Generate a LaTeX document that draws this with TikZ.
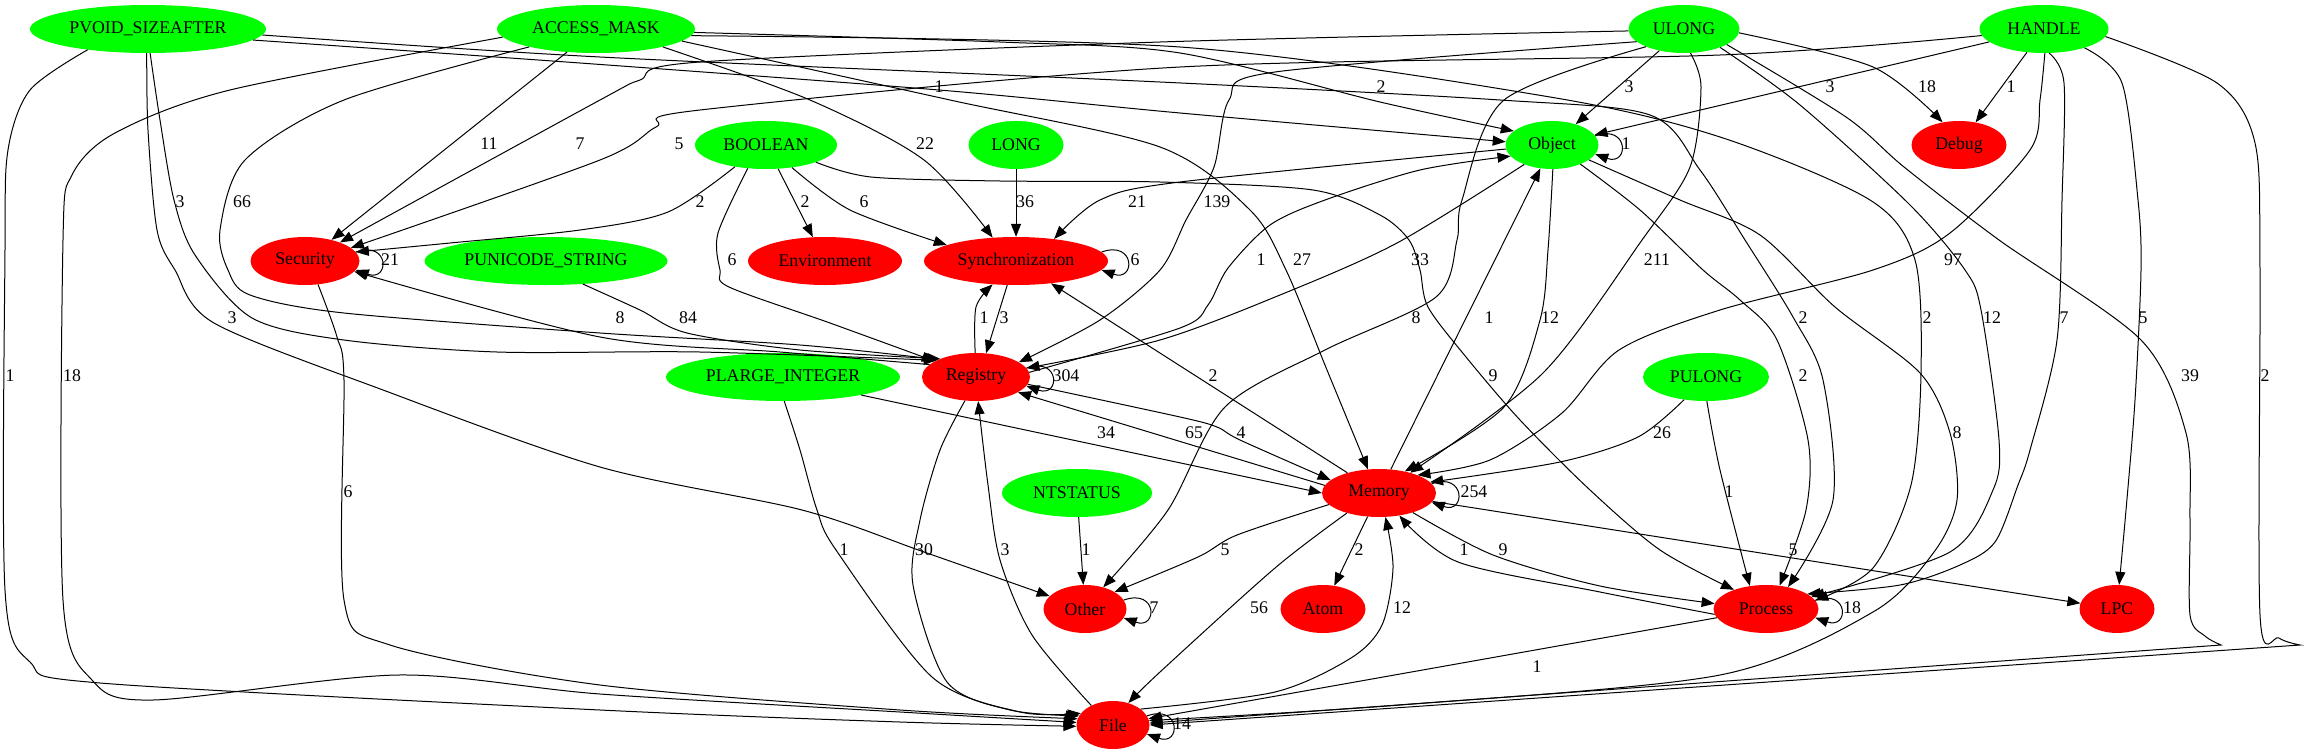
\documentclass[tikz,border=0pt]{standalone}
\usepackage{fontspec}
\setmainfont{Liberation Serif}
\usetikzlibrary{shapes,arrows.meta}
\tikzset{
  every node/.style={font=\fontsize{17.8pt}{20pt}\selectfont},
  rel/.style={line width=1pt, -{Triangle[length=13pt,width=10pt]}},
  cnt/.style={inner sep=0pt},
}
\begin{document}
\begin{tikzpicture}[x=1pt,y=-1pt]
    \tikzstyle{typenode}=[ellipse, fill=green, inner sep=0pt, minimum height=48pt]
    \tikzstyle{catnode}=[ellipse, fill=red, inner sep=0pt, minimum height=48pt]
    \useasboundingbox (0,0) rectangle (2305,755);

    % argument types
    \node (PvoidSizeAfter) [typenode, minimum width=236pt] at (148,29) {PVOID\_SIZEAFTER};
    \node (AccessMask) [typenode, minimum width=198pt] at (596,29) {ACCESS\_MASK};
    \node (Ulong) [typenode, minimum width=111pt] at (1684,29) {ULONG};
    \node (Handle) [typenode, minimum width=129pt] at (2044,29) {HANDLE};
    \node (Boolean) [typenode, minimum width=142pt] at (766,145) {BOOLEAN};
    \node (Long) [typenode, minimum width=95pt] at (1016,145) {LONG};
    \node (Object) [typenode, minimum width=93pt] at (1552,145) {Object};
    \node (PunicodeString) [typenode, minimum width=243pt] at (546,261) {PUNICODE\_STRING};
    \node (PlargeInteger) [typenode, minimum width=234pt] at (783,377) {PLARGE\_INTEGER};
    \node (Pulong) [typenode, minimum width=126pt] at (1706,377) {PULONG};
    \node (Ntstatus) [typenode, minimum width=150pt] at (1077,493) {NTSTATUS};

    % categories
    \node (Debug) [catnode, minimum width=95pt] at (1959,145) {Debug};
    \node (Security) [catnode, minimum width=109pt] at (305,261) {Security};
    \node (Environment) [catnode, minimum width=154pt] at (825,261) {Environment};
    \node (Synchronization) [catnode, minimum width=184pt] at (1016,261) {Synchronization};
    \node (Registry) [catnode, minimum width=108pt] at (976,377) {Registry};
    \node (Memory) [catnode, minimum width=114pt] at (1379,493) {Memory};
    \node (Other) [catnode, minimum width=83pt] at (1085,609) {Other};
    \node (Atom) [catnode, minimum width=85pt] at (1323,609) {Atom};
    \node (Process) [catnode, minimum width=105pt] at (1766,609) {Process};
    \node (Lpc) [catnode, minimum width=75pt] at (2117,609) {LPC};
    \node (File) [catnode, minimum width=73pt] at (1113,725) {File};

    % into Security
    \draw[rel] (AccessMask) -- (Security) node[cnt] (lAmSe) at (489,144) {11};
    \draw[rel] plot[smooth] coordinates {(Ulong.182) (1160,42) (700,62) (640,80) (600,100) (Security.28)}
        node[cnt] (lUlSe) at (580,144) {7};
    \draw[rel] plot[smooth] coordinates {(Handle.186) (1720,55) (1180,67) (700,110) (656,127) (600,160) (Security.16)}
        node[cnt] (lHaSe) at (679,144) {5};
    \draw[rel] plot[smooth] coordinates {(Boolean.215) (668,212) (580,230) (450,243) (Security.10)}
        node[cnt] (lBoSe) at (700,202) {2};
    \draw[rel] plot[smooth] coordinates {(Registry.165) (780,352) (600,337) (Security.-12)}
        node[cnt] (lRgSe) at (620,318) {8};
    \draw[rel] (Security.10) .. controls +(34,-12) and +(34,12) .. (Security.-10)
        node[cnt] (lSeSelf) at (390,260) {21};

    % into Registry
    \draw[rel] plot[smooth] coordinates {(PvoidSizeAfter.-85) (160,120) (174,200) (195,255) (252,318) (344,340) (497,352) (700,352) (Registry.157)}
        node[cnt] (lPvRg) at (180,202) {3};
    \draw[rel] plot[smooth] coordinates {(AccessMask.195) (344,100) (245,160) (220,230) (228,270) (250,295) (344,313) (600,333) (800,345) (Registry.155)}
        node[cnt] (lAmRg) at (242,202) {66};
    \draw[rel] plot[smooth] coordinates {(PunicodeString.-32) (640,310) (687,333) (800,350) (Registry.153)}
        node[cnt] (lPsRg) at (688,318) {84};
    \draw[rel] plot[smooth] coordinates {(Boolean.232) (718,233) (720,270) (729,287) (830,323) (Registry.159)}
        node[cnt] (lBoRg) at (732,260) {6};
    \draw[rel] plot[smooth] coordinates {(Ulong.195) (1275,72) (1229,100) (1214,167) (1186,220) (1160,270) (1100,320) (Registry.19)}
        node[cnt] (lUlRg) at (1217,202) {139};
    \draw[rel] plot[smooth] coordinates {(Object.215) (1397,243) (1280,295) (1160,340) (Registry.10)}
        node[cnt] (lObRg) at (1420,260) {33};
    \draw[rel] (Registry.10) .. controls +(34,-12) and +(34,12) .. (Registry.-10)
        node[cnt] (lRgSelf) at (1066,376) {304};

    % into Synchronization and Environment
    \draw[rel] plot[smooth] coordinates {(AccessMask.-15) (810,100) (924,160) (Synchronization.135)}
        node[cnt] (lAmSy) at (925,144) {22};
    \draw[rel] (Boolean) -- (Environment) node[cnt] (lBoEn) at (805,202) {2};
    \draw[rel] plot[smooth] coordinates {(Boolean.-41) (850,210) (Synchronization.167)}
        node[cnt] (lBoSy) at (864,202) {6};
    \draw[rel] (Long) -- (Synchronization) node[cnt] (lLoSy) at (1025,202) {36};
    \draw[rel] plot[smooth] coordinates {(Object.185) (1180,182) (1100,200) (Synchronization.30)}
        node[cnt] (lObSy) at (1137,202) {21};
    \draw[rel] plot[smooth] coordinates {(Registry.92) (976,307) (Synchronization.-135)}
        node[cnt] (lRgSy) at (984,318) {1};
    \draw[rel] (Synchronization.-110) -- (Registry.67) node[cnt] (lSyRg) at (1004,318) {3};
    \draw[rel] (Memory) -- (Synchronization) node[cnt] (lMeSy) at (1213,376) {2};
    \draw[rel] (Synchronization.6) .. controls +(34,-12) and +(34,12) .. (Synchronization.-6)
        node[cnt] (lSySelf) at (1135,260) {6};

    % into Object and Debug
    \draw[rel] plot[smooth] coordinates {(AccessMask.-2) (1000,42) (1180,53) (1380,102) (Object.160)}
        node[cnt] (lAmOb) at (1381,87) {2};
    \draw[rel] plot[smooth] coordinates {(PvoidSizeAfter.-6) (580,63) (939,90) (1180,113) (Object.176)}
        node[cnt] (lPvOb) at (939,87) {1};
    \draw[rel] (Ulong) -- (Object) node[cnt] (lUlOb) at (1629,87) {3};
    \draw[rel] (Handle) -- (Object) node[cnt] (lHaOb) at (1830,87) {3};
    \draw[rel] plot[smooth] coordinates {(Registry.5) (1180,328) (1208,305) (1228,268) (1270,225) (1325,200) (1420,170) (Object.195)}
        node[cnt] (lRgOb) at (1261,260) {1};
    \draw[rel] (Memory) -- (Object) node[cnt] (lMeOb) at (1489,318) {1};
    \draw[rel] (Object.12) .. controls +(34,-12) and +(34,12) .. (Object.-12)
        node[cnt] (lObSelf) at (1626,144) {1};
    \draw[rel] plot[smooth] coordinates {(Ulong.-4) (1873,67) (Debug.126)}
        node[cnt] (lUlDe) at (1927,87) {18};
    \draw[rel] (Handle) -- (Debug) node[cnt] (lHaDe) at (2011,87) {1};

    % into Memory
    \draw[rel] plot[smooth] coordinates {(AccessMask.-8) (950,100) (1160,147) (1250,210) (1286,270) (1327,370) (Memory.115)}
        node[cnt] (lAmMe) at (1302,260) {27};
    \draw[rel] plot[smooth] coordinates {(Ulong.-75) (1701,87) (1690,167) (1642,240) (1543,373) (Memory.33)}
        node[cnt] (lUlMe) at (1657,260) {211};
    \draw[rel] plot[smooth] coordinates {(Object.-88) (1548,250) (1540,320) (1504,407) (Memory.40)}
        node[cnt] (lObMe) at (1550,318) {12};
    \draw[rel] plot[smooth] coordinates {(Handle.-88) (2040,100) (2030,150) (1950,233) (1873,270) (1720,310) (1619,350) (1562,413) (1490,460) (Memory.25)}
        node[cnt] (lHaMe) at (1953,260) {97};
    \draw[rel] plot[smooth] coordinates {(Pulong.226) (1638,437) (1560,462) (Memory.12)}
        node[cnt] (lPuMe) at (1662,433) {26};
    \draw[rel] plot[smooth] coordinates {(Registry.-8) (1180,417) (1217,427) (1240,440) (Memory.165)}
        node[cnt] (lRgMe) at (1241,433) {4};
    \draw[rel] (Memory.172) -- (Registry.-20) node[cnt] (lMeRg) at (1194,433) {65};
    \draw[rel] (PlargeInteger.-13) -- (Memory.180) node[cnt] (lPlMe) at (1106,433) {34};
    \draw[rel] (Memory.10) .. controls +(34,-12) and +(34,12) .. (Memory.-10)
        node[cnt] (lMeSelf) at (1474,492) {254};

    % into Process and LPC
    \draw[rel] plot[smooth] coordinates {(PvoidSizeAfter.-3) (600,57) (1160,82) (1500,100) (1650,115) (1700,170) (1745,240) (1793,317) (1823,380) (1833,500) (Process.45)}
        node[cnt] (lPvPr) at (1803,318) {2};
    \draw[rel] plot[smooth] coordinates {(AccessMask.-4) (1180,47) (1550,97) (1720,137) (1870,200) (1915,260) (1921,373) (1911,485) (1873,568) (Process.10)}
        node[cnt] (lAmPr) at (1927,318) {2};
    \draw[rel] plot[smooth] coordinates {(Ulong.-27) (1800,105) (1910,205) (1965,270) (1981,310) (1999,440) (1993,490) (1950,552) (Process.15)}
        node[cnt] (lUlPr) at (1992,318) {12};
    \draw[rel] plot[smooth] coordinates {(Handle.-78) (2064,83) (2062,200) (2057,340) (2030,450) (2018,485) (1995,542) (1960,565) (1900,585) (Process.20)}
        node[cnt] (lHaPr) at (2064,318) {7};
    \draw[rel] plot[smooth] coordinates {(Pulong.-88) (1720,470) (Process.125)}
        node[cnt] (lPuPr) at (1729,492) {1};
    \draw[rel] plot[smooth] coordinates {(Object.-34) (1640,210) (1703,270) (1740,300) (1777,340) (1808,440) (1806,510) (Process.60)}
        node[cnt] (lObPr) at (1803,376) {2};
    \draw[rel] plot[smooth] coordinates {(Boolean.-19) (871,177) (1000,181) (1160,182) (1313,190) (1380,215) (1409,240) (1420,270) (1428,307) (1466,357) (1520,420) (1590,490) (1660,550) (Process.149)}
        node[cnt] (lBoPr) at (1493,376) {9};
    \draw[rel] plot[smooth] coordinates {(Memory.-30) (1493,555) (1600,586) (Process.174)}
        node[cnt] (lMePr) at (1503,550) {9};
    \draw[rel] plot[smooth] coordinates {(Process.186) (1600,592) (1458,562) (Memory.-48)}
        node[cnt] (lPrMe) at (1464,550) {1};
    \draw[rel] (Process.10) .. controls +(34,-12) and +(34,12) .. (Process.-10)
        node[cnt] (lPrSelf) at (1852,608) {18};
    \draw[rel] plot[smooth] coordinates {(Handle.-25) (2122,83) (2138,200) (2141,270) (2135,400) (2126,510) (Lpc.85)}
        node[cnt] (lHaLp) at (2143,318) {5};
    \draw[rel] (Memory) -- (Lpc) node[cnt] (lMeLp) at (1793,550) {5};

    % into Other and Atom
    \draw[rel] plot[smooth] coordinates {(PvoidSizeAfter.-93) (148,130) (157,230) (175,270) (214,323) (383,390) (600,467) (802,510) (924,552) (Other.160)}
        node[cnt] (lPvOt) at (232,318) {3};
    \draw[rel] plot[smooth] coordinates {(Ulong.205) (1504,100) (1462,200) (1457,240) (1436,297) (1325,350) (1225,407) (1168,510) (Other.50)}
        node[cnt] (lUlOt) at (1416,318) {8};
    \draw[rel] (Ntstatus) -- (Other) node[cnt] (lNtOt) at (1086,550) {1};
    \draw[rel] plot[smooth] coordinates {(Memory.193) (1237,535) (1198,557) (Other.30)}
        node[cnt] (lMeOt) at (1225,550) {5};
    \draw[rel] (Other.13) .. controls +(34,-12) and +(34,12) .. (Other.-13)
        node[cnt] (lOtSelf) at (1154,608) {7};
    \draw[rel] (Memory) -- (Atom) node[cnt] (lMeAt) at (1359,550) {2};

    % into File
    \draw[rel] plot[smooth] coordinates {(AccessMask.185) (230,90) (115,133) (72,175) (63,240) (63,600) (92,680) (153,700) (398,675) (600,694) (900,712) (File.176)}
        node[cnt] (lAmFi) at (72,376) {18};
    \draw[rel] plot[smooth] coordinates {(PvoidSizeAfter.199) (30,90) (8,150) (5,250) (5,590) (30,662) (100,683) (600,710) (900,722) (File.182)}
        node[cnt] (lPvFi) at (10,376) {1};
    \draw[rel] plot[smooth] coordinates {(Security.-61) (337,337) (344,380) (344,600) (390,645) (600,685) (900,710) (File.170)}
        node[cnt] (lSeFi) at (348,492) {6};
    \draw[rel] plot[smooth] coordinates {(Registry.-115) (940,450) (920,520) (913,585) (947,682) (1010,710) (File.165)}
        node[cnt] (lRgFi) at (924,550) {30};
    \draw[rel] plot[smooth] coordinates {(File.138) (1032,635) (1000,560) (988,485) (Registry.-85)}
        node[cnt] (lFiRg) at (1005,550) {3};
    \draw[rel] plot[smooth] coordinates {(PlargeInteger.-87) (800,450) (817,510) (836,550) (932,677) (1020,712) (File.160)}
        node[cnt] (lPlFi) at (844,550) {1};
    \draw[rel] plot[smooth] coordinates {(Memory.212) (1275,568) (1160,672) (File.55)}
        node[cnt] (lMeFi) at (1259,608) {56};
    \draw[rel] plot[smooth] coordinates {(File.30) (1275,692) (1351,658) (1382,625) (1393,568) (Memory.-75)}
        node[cnt] (lFiMe) at (1402,608) {12};
    \draw[rel] (Process) -- (File) node[cnt] (lPrFi) at (1537,667) {1};
    \draw[rel] plot[smooth] coordinates {(Object.-22) (1680,200) (1760,235) (1835,307) (1920,373) (1950,433) (1957,500) (1934,552) (1873,612) (1720,675) (1400,705) (File.7)}
        node[cnt] (lObFi) at (1957,433) {8};
    \draw[rel] plot[smooth] coordinates {(Ulong.-20) (1846,117) (1904,167) (1999,240) (2141,340) (2186,433) (2190,520) (2190,615) (2205,636) (2221,645)} -- (File.3)
        node[cnt] (lUlFi) at (2190,376) {39};
    \draw[rel] plot[smooth] coordinates {(Handle.-7) (2217,83) (2255,143) (2260,270) (2260,615) (2279,638) (2300,645)} -- (File.0)
        node[cnt] (lHaFi) at (2265,376) {2};
    \draw[rel] (File.15) .. controls +(34,-12) and +(34,12) .. (File.-15)
        node[cnt] (lFiSelf) at (1182,724) {14};
\end{tikzpicture}
\end{document}
